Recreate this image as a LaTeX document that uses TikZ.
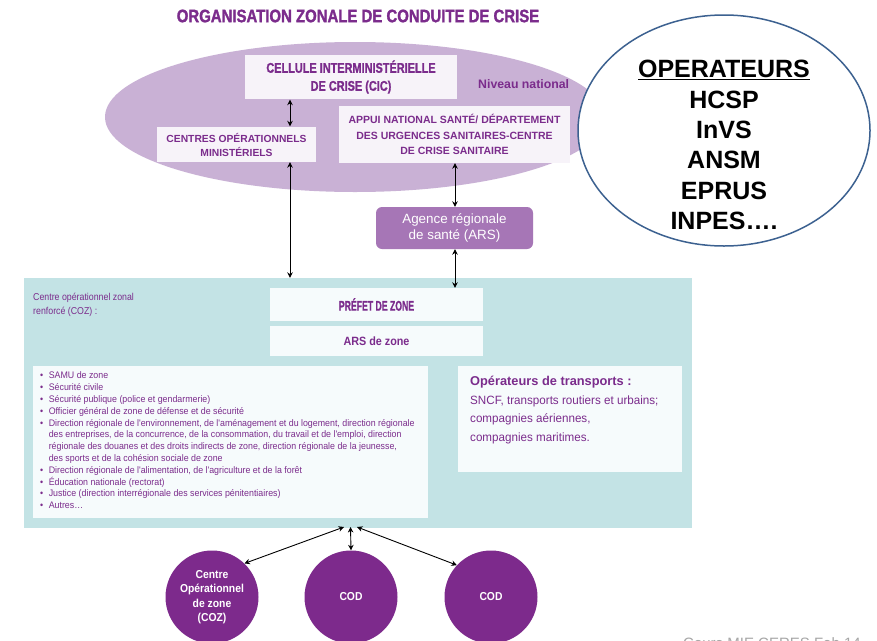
\documentclass[tikz,border=0pt]{standalone}
\usepackage{fontspec}
\setmainfont{Liberation Sans}
\newfontfamily\titlef[FakeStretch=0.83,FakeBold=1.5]{Liberation Sans Bold}
\newfontfamily\cicf[FakeStretch=0.78,FakeBold=1.2]{Liberation Sans Bold}
\newfontfamily\preff[FakeStretch=0.62,FakeBold=1.2]{Liberation Sans Bold}
\newfontfamily\semif[FakeStretch=0.9]{Liberation Sans Bold}
\newfontfamily\boldf{Liberation Sans Bold}
\newfontfamily\condf[FakeStretch=0.88]{Liberation Sans}
\newfontfamily\listf[FakeStretch=0.93]{Liberation Sans}
\newfontfamily\transf[FakeStretch=0.97]{Liberation Sans}
\usetikzlibrary{arrows.meta,shapes.geometric}
\definecolor{pur}{HTML}{7B2C8C}
\definecolor{lav}{HTML}{C9B1D5}
\definecolor{boxw}{HTML}{F7F3F9}
\definecolor{teal}{HTML}{C3E3E5}
\definecolor{tbox}{HTML}{F6FBFC}
\definecolor{arsc}{HTML}{A676B6}
\definecolor{circ}{HTML}{7D2A8C}
\definecolor{opblue}{HTML}{3C6190}
\tikzset{
  wbox/.style={fill=boxw,draw=none,inner sep=0pt,text=pur,align=center},
  tealbox/.style={fill=tbox,draw=none,inner sep=0pt,text=pur,align=center},
  link/.style={{Stealth[length=5.5pt,width=5.5pt]}-{Stealth[length=5.5pt,width=5.5pt]},line width=0.9pt,black},
  codc/.style={circle,fill=circ,minimum size=93pt,inner sep=0pt,text=white,align=center,font=\semif\fontsize{11.5}{14.5}\selectfont}
}
\begin{document}
\begin{tikzpicture}[x=1pt,y=-1pt]
\useasboundingbox (0,0) rectangle (877,640);
\fill[white] (0,0) rectangle (877,640);
% title
\node[text=pur,font=\titlef\fontsize{18}{20}\selectfont] (title) at (358,16) {ORGANISATION ZONALE DE CONDUITE DE CRISE};
% national ellipse
\node[ellipse,fill=lav,minimum width=500pt,minimum height=150pt,inner sep=0pt] (nat) at (355,117) {};
\node[wbox,minimum width=212pt,minimum height=44pt,font=\cicf\fontsize{14}{18}\selectfont] (cic) at (351,77) {CELLULE INTERMINISTÉRIELLE\\DE CRISE (CIC)};
\node[text=pur,font=\boldf\fontsize{12.3}{14}\selectfont,anchor=west,inner sep=0pt] (niv) at (478,84) {Niveau national};
\node[wbox,minimum width=159pt,minimum height=35pt,font=\boldf\fontsize{10.3}{14}\selectfont] (com) at (236.5,144.5) {CENTRES OPÉRATIONNELS\\MINISTÉRIELS};
\node[wbox,minimum width=231pt,minimum height=57pt,font=\boldf\fontsize{10.5}{15.5}\selectfont] (appui) at (454.5,134.5) {APPUI NATIONAL SANTÉ/ DÉPARTEMENT\\DES URGENCES SANITAIRES-CENTRE\\DE CRISE SANITAIRE};
% ARS
\node[fill=arsc,rounded corners=6pt,minimum width=157pt,minimum height=42pt,inner sep=0pt,text=white,align=center,font=\fontsize{13.4}{16}\selectfont] (ars) at (454.5,228) {Agence régionale\\de santé (ARS)};
% COZ area
\node[fill=teal,minimum width=668pt,minimum height=250pt,inner sep=0pt] (coz) at (358,403) {};
\node[text=pur,font=\condf\fontsize{10}{14}\selectfont,anchor=north west,align=left,inner sep=0pt] (cozlab) at (33,293) {Centre opérationnel zonal\\renforcé (COZ) :};
\node[tealbox,minimum width=213pt,minimum height=33pt,font=\preff\fontsize{14}{16}\selectfont] (pref) at (376.5,304.5) {PRÉFET DE ZONE};
\node[tealbox,minimum width=213pt,minimum height=30pt,font=\semif\fontsize{12}{14}\selectfont] (arsz) at (376.5,341) {ARS de zone};
\node[tealbox,minimum width=395pt,minimum height=152pt] (list) at (230.5,442) {};
\node[text=pur,anchor=north west,inner sep=0pt,font=\listf\fontsize{9.5}{11.8}\selectfont,align=left] (listtxt) at (40,370.5) {%
\begin{tabular}{@{}l@{\hspace{5.5pt}}l@{}}
\textbullet & SAMU de zone\\
\textbullet & Sécurité civile\\
\textbullet & Sécurité publique (police et gendarmerie)\\
\textbullet & Officier général de zone de défense et de sécurité\\
\textbullet & Direction régionale de l'environnement, de l'aménagement et du logement, direction régionale\\
 & des entreprises, de la concurrence, de la consommation, du travail et de l'emploi, direction\\
 & régionale des douanes et des droits indirects de zone, direction régionale de la jeunesse,\\
 & des sports et de la cohésion sociale de zone\\
\textbullet & Direction régionale de l'alimentation, de l'agriculture et de la forêt\\
\textbullet & Éducation nationale (rectorat)\\
\textbullet & Justice (direction interrégionale des services pénitentiaires)\\
\textbullet & Autres…
\end{tabular}};
\node[tealbox,minimum width=224pt,minimum height=106pt] (trans) at (570,419) {};
\node[text=pur,anchor=north west,inner sep=0pt,align=left,font=\transf\fontsize{12}{18.5}\selectfont] (transtxt) at (470,376) {{\boldf\fontsize{12.8}{18.5}\selectfont Opérateurs de transports :}\\SNCF, transports routiers et urbains;\\compagnies aériennes,\\compagnies maritimes.};
% circles
\node[codc] (c1) at (212,597) {Centre\\Opérationnel\\de zone\\(COZ)};
\node[codc] (c2) at (351,597) {COD};
\node[codc] (c3) at (491,597) {COD};
\coordinate (hubl) at (344,527);
\coordinate (hubc) at (350.5,527);
\coordinate (hubr) at (357,527);
% arrows
\draw[link] ([yshift=-0.5pt]cic.south -| 290,0) -- ([yshift=0.5pt]com.north -| 290,0);
\draw[link] (com.south -| 290,0) -- (coz.north -| 290,0);
\draw[link] (appui.south -| 455,0) -- (ars.north -| 455,0);
\draw[link] (ars.south -| 455,0) -- (pref.north -| 455,0);
\draw[link] (hubl) -- (c1.46);
\draw[link] (hubc) -- (c2.north);
\draw[link] (hubr) -- (c3.137);
% operateurs ellipse
\node[ellipse,fill=white,draw=opblue,line width=1.5pt,minimum width=292pt,minimum height=231pt,inner sep=0pt] (op) at (724,130.5) {};
\node[align=center,inner sep=0pt,font=\boldf\fontsize{25}{30.3}\selectfont] (optxt) at (724,145) {\underline{OPERATEURS}\\HCSP\\InVS\\ANSM\\EPRUS\\INPES….};
% footer
\node[text=gray!70,anchor=base west,inner sep=0pt,font=\fontsize{15}{16}\selectfont] (foot) at (683,648) {Cours MIE CERES Feb 14};
\end{tikzpicture}
\end{document}
